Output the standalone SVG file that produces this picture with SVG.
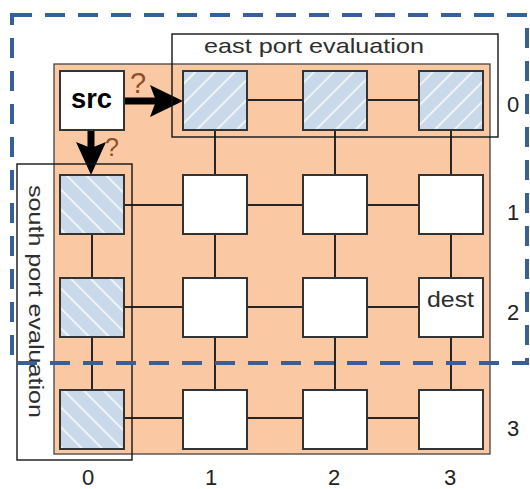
<svg xmlns="http://www.w3.org/2000/svg" width="530" height="489" viewBox="0 0 530 489">
  <defs>
    <!-- diagonal stripes for the evaluated ports -->
    <pattern id="hatchEast" patternUnits="userSpaceOnUse" width="14" height="14" patternTransform="rotate(45)">
      <rect width="14" height="14" fill="#c9d9e9"/>
      <line x1="7" y1="0" x2="7" y2="14" stroke="#ffffff" stroke-width="1.6" stroke-opacity="0.85"/>
    </pattern>
    <pattern id="hatchSouth" patternUnits="userSpaceOnUse" width="14" height="14" patternTransform="rotate(-45)">
      <rect width="14" height="14" fill="#c9d9e9"/>
      <line x1="7" y1="0" x2="7" y2="14" stroke="#ffffff" stroke-width="1.6" stroke-opacity="0.85"/>
    </pattern>
  </defs>
  <style>
    .node { stroke: #333333; stroke-width: 2; }
    .plain { fill: #ffffff; }
    .east { fill: url(#hatchEast); }
    .south { fill: url(#hatchSouth); }
    .link { stroke: #262626; stroke-width: 2; fill: none; }
    .frame { fill: none; stroke: #151515; stroke-width: 1.4; }
    .label { font-family: "Liberation Sans", Arial, sans-serif; fill: #2e2e2e; }
    .idx { font-family: "Liberation Sans", Arial, sans-serif; font-size: 22px; fill: #222222; text-anchor: middle; }
    .ask { font-family: "Liberation Sans", Arial, sans-serif; fill: #8e4f28; text-anchor: middle; }
    .arrow { fill: #000000; }
  </style>

  <rect width="530" height="489" fill="#ffffff"/>

  <!-- mesh background -->
  <rect id="mesh" x="54" y="64" width="436" height="390" fill="#fac9a4" stroke="#444444" stroke-width="1.3"/>

  <!-- links between routers -->
  <g id="connectors">
    <!-- rows -->
    <path class="link" d="M247 100H303M367 100H419"/>
    <path class="link" d="M124 205H183M247 205H303M367 205H419"/>
    <path class="link" d="M124 307H183M247 307H303M367 307H419"/>
    <path class="link" d="M124 418H183M247 418H303M367 418H419"/>
    <!-- columns -->
    <path class="link" d="M92 234V278M92 337V390"/>
    <path class="link" d="M215 130V175M215 234V278M215 337V390"/>
    <path class="link" d="M335 130V175M335 234V278M335 337V390"/>
    <path class="link" d="M451 130V175M451 234V278M451 337V390"/>
    <!-- candidate hops out of src -->
    <g id="hop-east">
      <rect class="arrow" x="117" y="97.5" width="39" height="7" rx="2"/>
      <path class="arrow" d="M183 101 L150 85 L156 101 L150 117 Z"/>
    </g>
    <g id="hop-south">
      <rect class="arrow" x="87.5" y="126" width="7" height="24"/>
      <path class="arrow" d="M91 175 L76 142 L91 148 L106 142 Z"/>
    </g>
  </g>

  <!-- routers: row 0 -->
  <g id="n00"><rect class="node plain" x="60" y="71" width="64" height="59"/>
    <text x="91.5" y="108" font-family="Liberation Sans, Arial, sans-serif" font-size="28" font-weight="bold" fill="#000000" text-anchor="middle" textLength="41" lengthAdjust="spacingAndGlyphs">src</text></g>
  <g id="n01"><rect class="node east" x="183" y="71" width="64" height="59"/></g>
  <g id="n02"><rect class="node east" x="303" y="71" width="64" height="59"/></g>
  <g id="n03"><rect class="node east" x="419" y="71" width="64" height="59"/></g>
  <!-- row 1 -->
  <g id="n10"><rect class="node south" x="60" y="175" width="64" height="59"/></g>
  <g id="n11"><rect class="node plain" x="183" y="175" width="64" height="59"/></g>
  <g id="n12"><rect class="node plain" x="303" y="175" width="64" height="59"/></g>
  <g id="n13"><rect class="node plain" x="419" y="175" width="64" height="59"/></g>
  <!-- row 2 -->
  <g id="n20"><rect class="node south" x="60" y="278" width="64" height="59"/></g>
  <g id="n21"><rect class="node plain" x="183" y="278" width="64" height="59"/></g>
  <g id="n22"><rect class="node plain" x="303" y="278" width="64" height="59"/></g>
  <g id="n23"><rect class="node plain" x="419" y="278" width="64" height="59"/>
    <text class="label" x="450.5" y="307" font-size="22" text-anchor="middle" textLength="47" lengthAdjust="spacingAndGlyphs">dest</text></g>
  <!-- row 3 -->
  <g id="n30"><rect class="node south" x="60" y="390" width="64" height="59"/></g>
  <g id="n31"><rect class="node plain" x="183" y="390" width="64" height="59"/></g>
  <g id="n32"><rect class="node plain" x="303" y="390" width="64" height="59"/></g>
  <g id="n33"><rect class="node plain" x="419" y="390" width="64" height="59"/></g>

  <!-- question marks on the two hops -->
  <text class="ask" x="138" y="93" font-size="29">?</text>
  <text class="ask" x="112" y="156" font-size="25">?</text>

  <!-- evaluation windows -->
  <g id="east-eval">
    <rect class="frame" x="172" y="34" width="326" height="103"/>
    <text class="label" x="314" y="53" font-size="21" text-anchor="middle" textLength="220" lengthAdjust="spacingAndGlyphs">east port evaluation</text>
  </g>
  <g id="south-eval">
    <rect class="frame" x="17" y="164" width="115" height="296"/>
    <text class="label" transform="translate(29,301.5) rotate(90)" x="0" y="0" font-size="21" text-anchor="middle" textLength="233" lengthAdjust="spacingAndGlyphs">south port evaluation</text>
  </g>

  <!-- region boundary -->
  <rect id="region" x="12" y="15" width="515" height="348" fill="none" stroke="#35609a" stroke-width="4" stroke-dasharray="20 13"/>

  <!-- row indices -->
  <text class="idx" x="513" y="112">0</text>
  <text class="idx" x="513" y="220">1</text>
  <text class="idx" x="513" y="320">2</text>
  <text class="idx" x="513" y="436">3</text>
  <!-- column indices -->
  <text class="idx" x="88" y="485">0</text>
  <text class="idx" x="211" y="485">1</text>
  <text class="idx" x="334" y="485">2</text>
  <text class="idx" x="450" y="485">3</text>
</svg>
